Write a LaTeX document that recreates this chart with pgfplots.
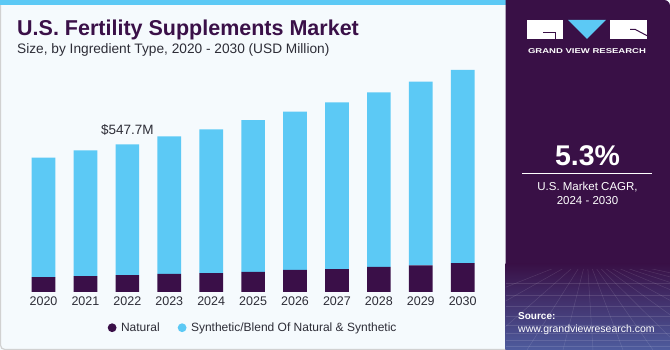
\documentclass[border=0pt]{standalone}
\usepackage{pgfplots}
\pgfplotsset{compat=1.18}
\usepackage{fontspec}
\setmainfont{Liberation Sans}
\usepackage{graphicx}
\definecolor{nat}{RGB}{58,15,72}
\definecolor{syn}{RGB}{92,201,245}
\definecolor{panel}{RGB}{57,16,70}
\definecolor{panelb}{RGB}{78,92,158}
\definecolor{bg}{RGB}{245,250,253}
\definecolor{txt}{RGB}{45,45,55}
\definecolor{ttl}{RGB}{58,16,72}
\begin{document}
\begin{tikzpicture}[x=1pt,y=1pt]
% left panel
\fill[bg] (0,0) rectangle (670,350);
\draw[black!18, line width=1.2pt, rounded corners=4pt] (0.6,346) -- (0.6,0.6) -- (508,0.6);
\fill[syn] (0,345) rectangle (506,350);
% right panel
\fill[panel] (505.5,0) -- (505.5,350) [rounded corners=6pt] -- (670,350) -- (670,0) [sharp corners] -- cycle;
\shade[top color=panel, bottom color=panelb] (505.5,0) rectangle (670,86);
\begin{scope}
\clip (505.5,0) rectangle (670,80);
\foreach \yy in {4,10,17,25,34,44,55,67} {\draw[white, opacity=0.12, line width=0.5pt] (505.5,\yy) -- (670,\yy);}
\foreach \xx in {-200,-140,-90,-50,-20,5,30,55,80,110,145,190,240,300,370} {\draw[white, opacity=0.12, line width=0.5pt] (587,95) -- (587+\xx*1.2,0);}
\end{scope}
% logo
\fill[white] (526.7,311) rectangle (563,330);
\draw[panel, line width=1pt] (543,317.7) -- (555,317.7) -- (555,311);
\fill[syn] (568,330) -- (606,330) -- (587,311) -- cycle;
\fill[white] (610,311) rectangle (647,330);
\draw[panel, line width=1pt] (630,320.7) -- (635,320.7) -- (647,314.3);
\node[anchor=base, inner sep=0pt, text=white] at (587,296.7) {\scalebox{1.36}[1]{\fontsize{7}{8}\selectfont\bfseries GRAND VIEW RESEARCH}};
% CAGR
\node[anchor=base, inner sep=0pt, text=white] at (587.5,184.3) {\fontsize{28.5}{30}\selectfont\bfseries 5.3\%};
\draw[white, line width=0.8pt] (522,176.7) -- (652,176.7);
\node[anchor=base, inner sep=0pt, text=white] at (587.5,159.3) {\fontsize{11.5}{13}\selectfont U.S. Market CAGR,};
\node[anchor=base, inner sep=0pt, text=white] at (587.5,145.3) {\fontsize{11.5}{13}\selectfont 2024 - 2030};
% source
\node[anchor=base west, inner sep=0pt, text=white] at (518,30.7) {\fontsize{10}{12}\selectfont\bfseries Source:};
\node[anchor=base west, inner sep=0pt, text=white] at (518,17) {\fontsize{10.5}{12}\selectfont www.grandviewresearch.com};
% titles
\node[anchor=base west, inner sep=0pt, text=ttl] at (17,314.3) {\fontsize{21.5}{24}\selectfont\bfseries U.S. Fertility Supplements Market};
\node[anchor=base west, inner sep=0pt, text=txt] at (17,296.7) {\fontsize{13.7}{15}\selectfont Size, by Ingredient Type, 2020 - 2030 (USD Million)};
\begin{axis}[
  at={(1.6pt,58pt)}, anchor=south west, scale only axis,
  width=503pt, height=232pt,
  xmin=-1, xmax=11, ymin=0, ymax=860.3,
  ybar stacked, bar width=23.7pt,
  axis line style={draw=none}, major tick length=0pt,
  ytick=\empty, xtick={0,...,10},
  xticklabels={2020,2021,2022,2023,2024,2025,2026,2027,2028,2029,2030},
  xticklabel style={font=\fontsize{12.5}{14}\selectfont, text=txt, inner sep=0pt, anchor=north, yshift=-4.7pt},
  clip=false,
  legend columns=2,
  legend style={at={(0.5,-0.154)}, anchor=center, draw=none, fill=none,
    font=\fontsize{12}{13}\selectfont, text=txt,
    /tikz/every odd column/.append style={column sep=2.5pt},
    /tikz/every even column/.append style={column sep=16pt}},
  legend image code/.code={\fill[#1] (0pt,0pt) circle[radius=4.4pt];},
]
\addplot[fill=nat, draw=none] coordinates {(0,55.6)(1,59)(2,63)(3,67)(4,70)(5,75)(6,82)(7,85)(8,93)(9,99)(10,107)};
\addlegendentry{Natural}
\addplot[fill=syn, draw=none] coordinates {(0,442.4)(1,466)(2,484.7)(3,510)(4,533)(5,562)(6,587)(7,618)(8,647)(9,681)(10,717)};
\addlegendentry{Synthetic/Blend Of Natural \& Synthetic}
\node[anchor=base, inner sep=0pt, text=txt, font=\fontsize{13.5}{15}\selectfont] at (axis cs:2,547.7) [yshift=10pt] {\$547.7M};
\end{axis}
\end{tikzpicture}
\end{document}
